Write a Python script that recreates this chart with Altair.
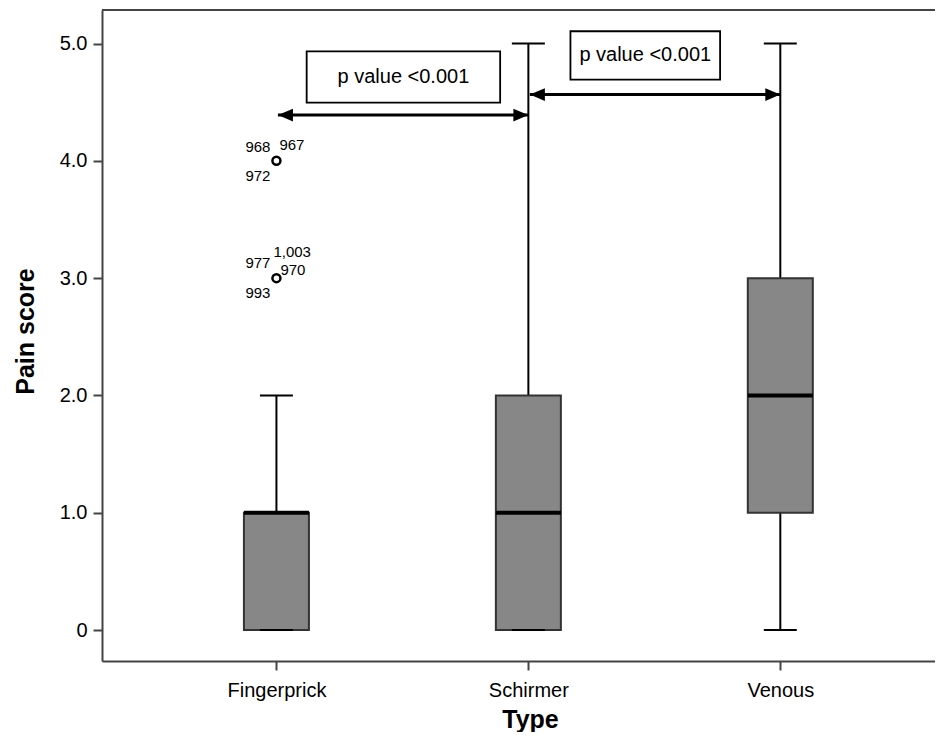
import altair as alt
import pandas as pd

# ---- data ----
types = ["Fingerprick", "Schirmer", "Venous"]
positions = [1, 2, 3]
whisker_low = [0.0, 0.0, 0.0]
q1 = [0.0, 0.0, 1.0]
median = [1.0, 1.0, 2.0]
q3 = [1.0, 2.0, 3.0]
whisker_high = [2.0, 5.0, 5.0]

outlier_pos = [1, 1]
outlier_values = [4.0, 3.0]

case_labels = ["968", "967", "972", "977", "1,003", "970", "993"]
case_values = [4.0, 4.0, 4.0, 3.0, 3.0, 3.0, 3.0]
case_pos = [1, 1, 1, 1, 1, 1, 1]

comp_from = [1.0, 2.0]
comp_to = [2.0, 3.0]
comp_text = ["p value <0.001", "p value <0.001"]
arrow_level = [4.39, 4.565]
label_x1 = [1.12, 2.167]
label_x2 = [1.888, 2.761]
label_y1 = [4.497, 4.693]
label_y2 = [4.934, 5.105]

y_ticks = [0, 1, 2, 3, 4, 5]

# ---- style ----
FONT = "Liberation Sans"
case_dx = [-6, 3, -6, -6, -3, 4, -6]
case_dy = [-14, -16, 15, -15, -26, -8, 15]
case_align = ["right", "left", "right", "right", "left", "left", "right"]

PLOT_W = 833
PLOT_H = 651
PX_PER_UNIT = 255.0
X_MIN = 0.3275

box_df = pd.DataFrame({"type": types, "pos": positions, "lo": whisker_low, "q1": q1,
                       "med": median, "q3": q3, "hi": whisker_high})
out_df = pd.DataFrame({"pos": outlier_pos, "v": outlier_values})
case_df = pd.DataFrame({"pos": case_pos, "v": case_values, "lab": case_labels})
comp_df = pd.DataFrame({"a": comp_from, "b": comp_to, "t": comp_text, "lvl": arrow_level,
                        "x1": label_x1, "x2": label_x2, "y1": label_y1, "y2": label_y2})
comp_df["a_tip"] = comp_df["a"] + 0.006
comp_df["xc"] = (comp_df["x1"] + comp_df["x2"]) / 2
comp_df["yc"] = (comp_df["y1"] + comp_df["y2"]) / 2

xs = alt.Scale(domain=[X_MIN, X_MIN + PLOT_W / PX_PER_UNIT], nice=False, zero=False)
ys = alt.Scale(domain=[-0.2643, 5.286], nice=False, zero=False)

xaxis = alt.Axis(values=positions, title="Type",
                 labelExpr="['', 'Fingerprick', 'Schirmer', 'Venous'][datum.value]",
                 grid=False, domainColor="#444", domainWidth=2, tickColor="#444",
                 tickWidth=2, tickSize=9, labelFont=FONT, labelFontSize=20,
                 labelColor="black", labelPadding=10, labelFlush=False, labelOverlap=False,
                 titleFont=FONT, titleFontSize=25, titleFontWeight="bold", titleColor="black",
                 titleX=428, titleY=66, titleBaseline="alphabetic", titleAlign="center")
yaxis = alt.Axis(values=y_ticks, title="Pain score",
                 labelExpr="datum.value == 0 ? '0' : format(datum.value, '.1f')",
                 grid=False, domainColor="#444", domainWidth=2, tickColor="#444",
                 tickWidth=2, tickSize=9, labelFont=FONT, labelFontSize=20,
                 labelColor="black", labelPadding=6, labelFlush=False, labelOverlap=False,
                 titleFont=FONT, titleFontSize=25, titleFontWeight="bold", titleColor="black",
                 titleAngle=-90, titleX=-69, titleY=321, titleBaseline="alphabetic",
                 titleAlign="center")


def X(f):
    return alt.X(f, type="quantitative", scale=xs, axis=xaxis)


def Y(f):
    return alt.Y(f, type="quantitative", scale=ys, axis=yaxis)


base = alt.Chart(box_df)

whisk_lo = base.mark_rule(color="black", strokeWidth=2).encode(x=X("pos"), y=Y("lo"), y2="q1")
whisk_hi = base.mark_rule(color="black", strokeWidth=2).encode(x=X("pos"), y=Y("q3"), y2="hi")
boxes = base.mark_bar(size=65, color="#878787", stroke="#333333", strokeWidth=2).encode(
    x=X("pos"), y=Y("q1"), y2="q3")
meds = base.mark_tick(orient="horizontal", size=65, thickness=4, color="black", opacity=1).encode(
    x=X("pos"), y=Y("med"))
cap_lo = base.mark_tick(orient="horizontal", size=33, thickness=2, color="black", opacity=1).encode(
    x=X("pos"), y=Y("lo"))
cap_hi = base.mark_tick(orient="horizontal", size=33, thickness=2, color="black", opacity=1).encode(
    x=X("pos"), y=Y("hi"))

outs = alt.Chart(out_df).mark_point(shape="circle", size=64, filled=False, color="black",
                                    strokeWidth=2.5, opacity=1).encode(x=X("pos"), y=Y("v"))

case_layers = []
for i in range(len(case_labels)):
    case_layers.append(
        alt.Chart(case_df.iloc[[i]]).mark_text(font=FONT, fontSize=15, color="black",
                                               align=case_align[i], baseline="middle",
                                               dx=case_dx[i], dy=case_dy[i]).encode(
            x=X("pos"), y=Y("v"), text="lab"))

cbase = alt.Chart(comp_df)
lab_boxes = cbase.mark_rect(fill="white", stroke="black", strokeWidth=1.8).encode(
    x=X("x1"), x2="x2", y=Y("y1"), y2="y2")
lab_text = cbase.mark_text(font=FONT, fontSize=20, color="black", baseline="middle").encode(
    x=X("xc"), y=Y("yc"), text="t")
arrow_line = cbase.mark_rule(color="black", strokeWidth=3).encode(
    x=X("a_tip"), x2="b", y=Y("lvl"))
head_left = cbase.mark_point(shape="M0,0 L2,-0.85 L2,0.85 Z", size=225, filled=True,
                             fill="black", strokeWidth=0, opacity=1).encode(
    x=X("a_tip"), y=Y("lvl"))
head_right = cbase.mark_point(shape="M0,0 L-2,-0.85 L-2,0.85 Z", size=225, filled=True,
                              fill="black", strokeWidth=0, opacity=1).encode(
    x=X("b"), y=Y("lvl"))

top_border = alt.Chart(box_df).mark_rule(color="#444", strokeWidth=2).encode(
    x=alt.value(0), x2=alt.value(PLOT_W), y=alt.value(0))

chart = alt.layer(
    whisk_lo, whisk_hi, boxes, meds, cap_lo, cap_hi, outs, *case_layers,
    lab_boxes, lab_text, arrow_line, head_left, head_right, top_border
).properties(
    width=PLOT_W, height=PLOT_H,
    autosize=alt.AutoSizeParams(type="none"),
    padding={"left": 94, "top": 2, "right": 0, "bottom": 71},
).configure_view(stroke=None).configure(background="white")

chart.save("out.html", embed_options={"renderer": "svg", "actions": False})
